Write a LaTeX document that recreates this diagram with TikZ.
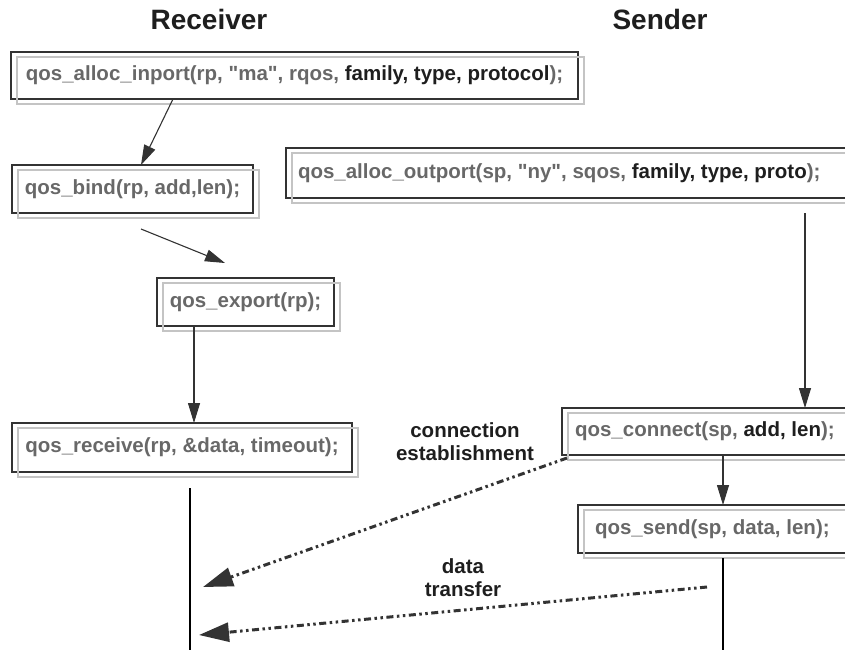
\documentclass[tikz,border=0pt]{standalone}
\usepackage{fontspec}
\setmainfont{Liberation Sans}[Ligatures=TeXOff]
\usetikzlibrary{arrows.meta}
\definecolor{tg}{HTML}{686868}
\definecolor{tk}{HTML}{1E1E1E}
\definecolor{ln}{HTML}{333333}
\definecolor{sh}{HTML}{C4C4C4}
\begin{document}
\begin{tikzpicture}[x=1pt,y=-1pt,
  codebox/.style={draw=ln, line width=1.2pt, rectangle, anchor=north west,
    inner sep=0pt, outer sep=0pt,
    font=\fontsize{20.5}{24}\selectfont\bfseries, text=tg},
  shadowbox/.style={draw=sh, line width=1.2pt},
  arr/.style={draw=ln, line width=1.1pt, -{Triangle[length=20pt,width=12pt]}},
  msg/.style={draw=ln, line width=3pt,
    dash pattern=on 7pt off 3.5pt on 2.5pt off 3.5pt on 2.5pt off 3.5pt,
    -{Triangle[length=30pt,width=19pt]}},
  life/.style={draw=black, line width=2.6pt},
  hdr/.style={font=\fontsize{28}{32}\selectfont\bfseries, text=tk},
  lbl/.style={font=\fontsize{20.5}{23}\selectfont\bfseries, text=tk, align=center},
]
\useasboundingbox (0,0) rectangle (845,649);

% headers
\node[hdr] (hrecv) at (209,19) {Receiver};
\node[hdr] (hsend) at (660,19) {Sender};

% boxes
\node[codebox, minimum width=567pt, minimum height=47pt] (inport) at (11,52)
  {qos\_alloc\_inport(rp, "ma", rqos, {\color{tk}family, type, protocol});};
\node[codebox, minimum width=241pt, minimum height=48pt] (bind) at (12,165)
  {qos\_bind(rp, add,len);};
\node[codebox, minimum width=177pt, minimum height=48pt] (export) at (157,278)
  {qos\_export(rp);};
\node[codebox, minimum width=340pt, minimum height=49pt] (receive) at (12,423)
  {qos\_receive(rp, \&data, timeout);};
\node[codebox, minimum width=562pt, minimum height=50pt] (outport) at (286,148)
  {\makebox[538pt][l]{qos\_alloc\_outport(sp, "ny", sqos, {\color{tk}family, type, proto});}};
\node[codebox, minimum width=290pt, minimum height=47pt] (connect) at (562,408)
  {\makebox[264pt][l]{qos\_connect(sp, {\color{tk}add, len});}};
\node[codebox, minimum width=272pt, minimum height=48pt] (send) at (578,505)
  {\makebox[238pt][l]{qos\_send(sp, data, len);}};

% shadows
\foreach \b in {inport,bind,export,receive,outport,connect,send}
  \draw[shadowbox] ([shift={(6,5)}]\b.north west) rectangle ([shift={(6,5)}]\b.south east);

% free coordinates
\coordinate (bindout) at ([shift={(129,16)}]bind.south west);
\coordinate (exportin) at ([shift={(68,-15)}]export.north west);
\coordinate (outportout) at ([shift={(519,15)}]outport.south west);
\coordinate (rtop) at ([shift={(178,16)}]receive.south west);
\coordinate (rbot) at (190,652);
\coordinate (stop) at ([shift={(145,5)}]send.south west);
\coordinate (sbot) at (723,652);
\coordinate (conTip) at (203,587);
\coordinate (datStart) at (707,587);
\coordinate (datTip) at (199,635);

% solid arrows
\draw[arr] ([shift={(162,0)}]inport.south west) -- ([shift={(129,0)}]bind.north west);
\draw[arr] (bindout) -- (exportin);
\draw[arr] ([shift={(37,0)}]export.south west) -- ([shift={(182,0)}]receive.north west);
\draw[arr] (outportout) -- ([shift={(243,0)}]connect.north west);
\draw[arr] ([shift={(161,0)}]connect.south west) -- ([shift={(145,0)}]send.north west);

% lifelines
\draw[life] (rtop) -- (rbot);
\draw[life] (stop) -- (sbot);

% messages
\draw[msg] ([shift={(5,3)}]connect.south west) -- (conTip);
\draw[msg] (datStart) -- (datTip);

% labels
\node[lbl] (lcon) at (465,442) {connection\\establishment};
\node[lbl] (ldat) at (463,578) {data\\transfer};
\end{tikzpicture}
\end{document}
